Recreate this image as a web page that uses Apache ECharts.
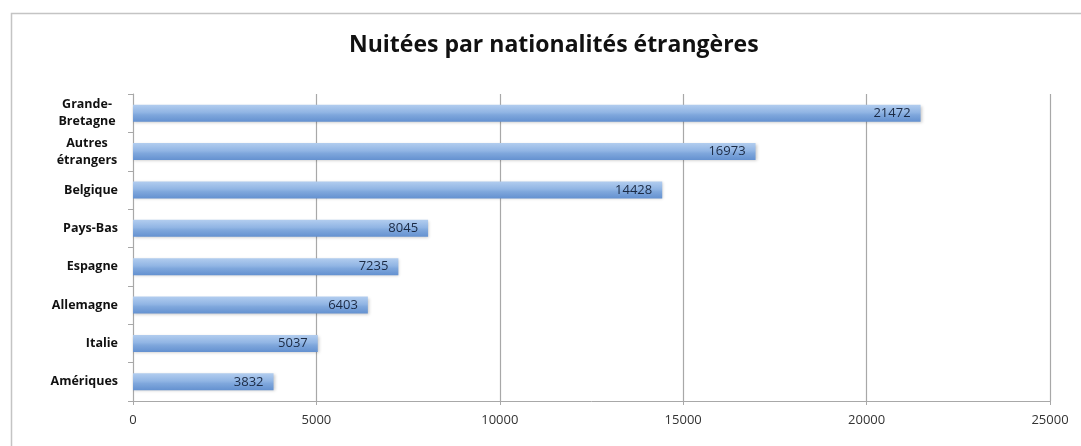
<!DOCTYPE html>
<html>
<head>
<meta charset="utf-8">
<script src="https://cdn.jsdelivr.net/npm/echarts@6/dist/echarts.min.js"></script>
<style>
html,body{margin:0;padding:0;background:#fff;}
#c{width:1081px;height:446px;}
</style>
</head>
<body>
<div id="c"></div>
<script>
const categories = ["Grande-\nBretagne", "Autres\nétrangers", "Belgique", "Pays-Bas", "Espagne", "Allemagne", "Italie", "Amériques"];
const values = [21472, 16973, 14428, 8045, 7235, 6403, 5037, 3832];
const xTicks = [0, 5000, 10000, 15000, 20000, 25000];
const titleText = "Nuitées par nationalités étrangères";

const labelFont = 'bold 12.5px "Open Sans"';
const measureCtx = document.createElement('canvas').getContext('2d');
measureCtx.font = labelFont;
function catFormatter(v) {
  if (v.indexOf('\n') < 0) return v;
  const lines = v.split('\n');
  return lines.map(l => '{c|' + l + '}').join('\n');
}
function maxLineWidth() {
  let w = 0;
  categories.forEach(c => {
    if (c.indexOf('\n') >= 0) c.split('\n').forEach(l => { w = Math.max(w, measureCtx.measureText(l).width); });
  });
  return Math.ceil(w) + 1;
}

const chart = echarts.init(document.getElementById('c'), null, {renderer: 'canvas'});
chart.setOption({
  backgroundColor: '#ffffff',
  animation: false,
  graphic: [{
    type: 'rect',
    shape: {x: 11.5, y: 13.5, width: 1100, height: 460},
    style: {fill: 'none', stroke: '#c4c4c4', lineWidth: 1.5},
    silent: true
  }],
  title: {
    text: titleText,
    left: 344,
    top: 29,
    textStyle: {fontFamily: 'Open Sans', fontWeight: 'bold', fontSize: 23, color: '#111'}
  },
  grid: {left: 133, right: 31, top: 94, bottom: 45, containLabel: false},
  xAxis: {
    type: 'value',
    min: xTicks[0],
    max: xTicks[xTicks.length - 1],
    interval: 5000,
    axisLine: {show: true, lineStyle: {color: '#a8a8a8', width: 1}},
    axisTick: {show: true, length: 4, lineStyle: {color: '#a8a8a8'}},
    axisLabel: {color: '#333', fontFamily: 'Open Sans', fontSize: 13, margin: 13, formatter: v => String(v)},
    splitLine: {show: true, lineStyle: {color: '#a8a8a8', width: 1.2}}
  },
  yAxis: {
    type: 'category',
    data: categories,
    inverse: true,
    axisLine: {show: true, lineStyle: {color: '#a8a8a8', width: 1}},
    axisTick: {show: true, length: 5, lineStyle: {color: '#a8a8a8'}},
    axisLabel: {
      color: '#111', fontFamily: 'Open Sans', fontWeight: 'bold', fontSize: 12.5, margin: 15, lineHeight: 17, align: 'right',
      formatter: catFormatter,
      rich: {c: {width: maxLineWidth(), align: 'center', color: '#111', fontFamily: 'Open Sans', fontWeight: 'bold', fontSize: 12.5, lineHeight: 17}}
    }
  },
  series: [{
    type: 'bar',
    data: values,
    barWidth: 17,
    itemStyle: {
      color: new echarts.graphic.LinearGradient(0, 0, 0, 1, [
        {offset: 0, color: '#b2cdef'},
        {offset: 0.45, color: '#91b5e4'},
        {offset: 0.6, color: '#7fa7dc'},
        {offset: 1, color: '#6491d0'}
      ]),
      shadowColor: 'rgba(0,0,0,0.22)',
      shadowBlur: 3,
      shadowOffsetX: 1,
      shadowOffsetY: 1
    },
    label: {
      show: true,
      position: 'insideRight',
      distance: 10,
      color: '#1b2a44',
      fontFamily: 'Open Sans',
      fontSize: 13
    }
  }]
});
</script>
</body>
</html>
